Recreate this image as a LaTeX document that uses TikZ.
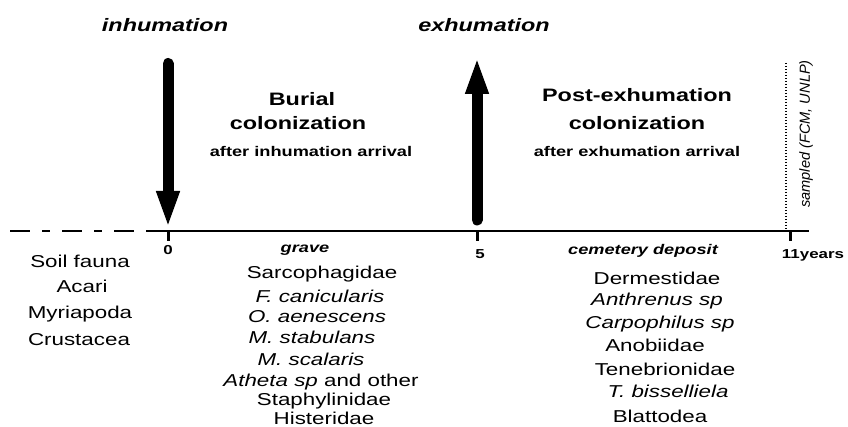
\documentclass[tikz,border=0pt]{standalone}
\usepackage{fontspec}
\setmainfont{Liberation Sans}[FakeStretch=1.3]
\newfontfamily\plainfont{Liberation Sans}
\usetikzlibrary{arrows.meta}
\newcommand{\fs}[1]{\fontsize{#1}{#1}\selectfont}
\begin{document}
\begin{tikzpicture}[x=1pt,y=-1pt,
  txt/.style={inner sep=0pt, anchor=base, font=\fs{17.2}},
  head/.style={inner sep=0pt, anchor=base, font=\fs{18}\bfseries},
  sub/.style={inner sep=0pt, anchor=base, font=\fs{14}\bfseries},
  place/.style={inner sep=0pt, anchor=base, font=\fs{14}\bfseries\itshape},
  ticklab/.style={inner sep=0pt, anchor=base, font=\fs{13}\bfseries},
  axisline/.style={line width=2pt},
  tickmark/.style={line width=3pt},
  bigarrow/.style={line width=11pt, line cap=round, -{Triangle[width=21pt,length=37pt]}}
]
\useasboundingbox (0,0) rectangle (848,427);
% axis
\coordinate (axL) at (10,231);
\coordinate (axD) at (148,231);
\coordinate (axR) at (809,231);
\draw[axisline, dash pattern=on 20pt off 12pt on 8pt off 12pt] (axL) -- (axD);
\draw[axisline] (axD) -- (axR);
\coordinate (t0) at (168,231); \coordinate (t0b) at (168,241);
\coordinate (t5) at (477,231); \coordinate (t5b) at (477,241);
\coordinate (t11) at (790,231); \coordinate (t11b) at (790,241);
\draw[tickmark] (t0) -- (t0b);
\draw[tickmark] (t5) -- (t5b);
\draw[tickmark] (t11) -- (t11b);
% arrows
\coordinate (inhTop) at (168,63.5);
\coordinate (inhTip) at (168,228);
\draw[bigarrow] (inhTop) -- (inhTip);
\coordinate (exhBot) at (477,220);
\coordinate (exhTip) at (477,57);
\draw[bigarrow] (exhBot) -- (exhTip);
% dotted sampling line
\coordinate (sTop) at (786,63);
\coordinate (sBot) at (786,231);
\draw[line width=1.2pt, dash pattern=on 1.5pt off 1.5pt] (sTop) -- (sBot);
\node[inner sep=0pt, rotate=90, font=\plainfont\itshape\fs{14.6}] (sampled) at (806,134) {sampled (FCM, UNLP)};
% top labels
\node[head, font=\fs{18}\bfseries\itshape] (inh) at (165,32) {inhumation};
\node[head, font=\fs{18}\bfseries\itshape] (exh) at (484,32) {exhumation};
\node[head] (bur1) at (302,106) {Burial};
\node[head] (bur2) at (298,130) {colonization};
\node[sub] (bur3) at (311,157) {after inhumation arrival};
\node[head] (post1) at (637,102) {Post-exhumation};
\node[head] (post2) at (637,130) {colonization};
\node[sub] (post3) at (637,157) {after exhumation arrival};
% tick labels
\node[ticklab] (l0) at (168,255) {0};
\node[ticklab] (l5) at (480,259) {5};
\node[ticklab] (l11) at (813,259) {11years};
% left list
\node[txt] (s1) at (80,268) {Soil fauna};
\node[txt] (s2) at (82,293) {Acari};
\node[txt] (s3) at (80,319) {Myriapoda};
\node[txt] (s4) at (79,345) {Crustacea};
% grave list
\node[place] (grave) at (305,253) {grave};
\node[txt] (g1) at (322,279) {Sarcophagidae};
\node[txt] (g2) at (320,303) {\itshape F. canicularis};
\node[txt] (g3) at (317,323) {\itshape O. aenescens};
\node[txt] (g4) at (312,344) {\itshape M. stabulans};
\node[txt] (g5) at (311,365) {\itshape M. scalaris};
\node[txt] (g6) at (321,386) {{\itshape Atheta sp} and other};
\node[txt] (g7) at (324,405) {Staphylinidae};
\node[txt] (g8) at (324,424.5) {Histeridae};
% cemetery list
\node[place] (cem) at (643,255) {cemetery deposit};
\node[txt] (c1) at (657,285) {Dermestidae};
\node[txt] (c2) at (657,306) {\itshape Anthrenus sp};
\node[txt] (c3) at (660,328) {\itshape Carpophilus sp};
\node[txt] (c4) at (655,352) {Anobiidae};
\node[txt] (c5) at (665,375) {Tenebrionidae};
\node[txt] (c6) at (668,397) {\itshape T. bisselliela};
\node[txt] (c7) at (660,422) {Blattodea};
\end{tikzpicture}
\end{document}
